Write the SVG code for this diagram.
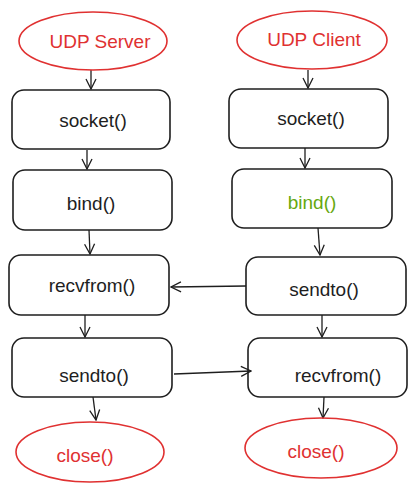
<svg xmlns="http://www.w3.org/2000/svg" width="417" height="492" viewBox="0 0 417 492">
<defs>
<style>
.box{fill:none;stroke:#1e1e1e;stroke-width:1.6}
.ell{fill:none;stroke:#e03131;stroke-width:1.6}
.t{font-family:"Liberation Sans",Arial,sans-serif;font-size:19px;fill:#1e1e1e;text-anchor:middle;dominant-baseline:central}
.r{fill:#e03131}
.g{fill:#66a80f}
.c{fill:none;stroke:#1e1e1e;stroke-width:1.3}
</style>
<marker id="ah" viewBox="0 0 12 12" refX="11" refY="6" markerWidth="12" markerHeight="12" markerUnits="userSpaceOnUse" orient="auto">
<path d="M1,1 L11,6 L1,11" fill="none" stroke="#1e1e1e" stroke-width="1.3"/>
</marker>
</defs>
<rect width="417" height="492" fill="#ffffff"/>
<g id="connectors">
<path class="c" d="M91,70 L91,89" marker-end="url(#ah)"/>
<path class="c" d="M308,70 L308,88" marker-end="url(#ah)"/>
<path class="c" d="M87,150 L87,169" marker-end="url(#ah)"/>
<path class="c" d="M305,148 L305,168" marker-end="url(#ah)"/>
<path class="c" d="M89,230 L90,254" marker-end="url(#ah)"/>
<path class="c" d="M318,228 L320,255" marker-end="url(#ah)"/>
<path class="c" d="M85,315 L85,337" marker-end="url(#ah)"/>
<path class="c" d="M322,315 L322,337" marker-end="url(#ah)"/>
<path class="c" d="M93,397 L96,420" marker-end="url(#ah)"/>
<path class="c" d="M324,397 L323,418" marker-end="url(#ah)"/>
<path class="c" d="M246,286 L171,287" marker-end="url(#ah)"/>
<path class="c" d="M174,374 L251,371" marker-end="url(#ah)"/>
</g>
<g id="udp-server"><ellipse class="ell" cx="93" cy="41" rx="74" ry="29"/><text class="t r" x="100" y="41">UDP Server</text></g>
<g id="udp-client"><ellipse class="ell" cx="312" cy="40" rx="75" ry="29"/><text class="t r" x="314" y="39">UDP Client</text></g>
<g id="s-socket"><rect class="box" x="12" y="90" width="158" height="59" rx="12"/><text class="t" x="93" y="120">socket()</text></g>
<g id="c-socket"><rect class="box" x="229" y="89" width="159" height="59" rx="12"/><text class="t" x="311" y="118">socket()</text></g>
<g id="s-bind"><rect class="box" x="13" y="170" width="159" height="60" rx="12"/><text class="t" x="91" y="203">bind()</text></g>
<g id="c-bind"><rect class="box" x="232" y="169" width="160" height="59" rx="12"/><text class="t g" x="312" y="202">bind()</text></g>
<g id="s-recvfrom"><rect class="box" x="9" y="255" width="160" height="60" rx="12"/><text class="t" x="92" y="285">recvfrom()</text></g>
<g id="c-sendto"><rect class="box" x="246" y="257" width="160" height="58" rx="12"/><text class="t" x="324" y="289">sendto()</text></g>
<g id="s-sendto"><rect class="box" x="12" y="338" width="160" height="59" rx="12"/><text class="t" x="94" y="375">sendto()</text></g>
<g id="c-recvfrom"><rect class="box" x="248" y="338" width="159" height="59" rx="12"/><text class="t" x="338" y="375">recvfrom()</text></g>
<g id="s-close"><ellipse class="ell" cx="90" cy="452" rx="74" ry="30"/><text class="t r" x="85" y="455">close()</text></g>
<g id="c-close"><ellipse class="ell" cx="321" cy="448" rx="76" ry="30"/><text class="t r" x="316" y="451">close()</text></g>
</svg>
